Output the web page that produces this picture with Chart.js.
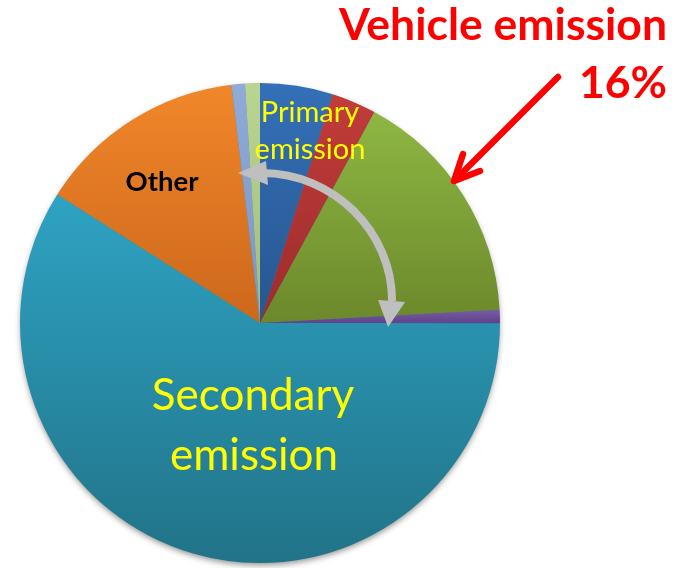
<!DOCTYPE html>
<html>
<head>
<meta charset="utf-8">
<script src="https://cdn.jsdelivr.net/npm/chart.js@4"></script>
<style>
  html, body { margin: 0; padding: 0; background: #ffffff; }
  #box { position: relative; width: 688px; height: 568px; }
</style>
</head>
<body>
<div id="box"><canvas id="pie-chart" width="688" height="568"></canvas></div>
<script>
// sectores en el orden del reloj, empezando arriba
const sources = ['Primary A', 'Primary B', 'Vehicle emission', 'Primary C',
                 'Secondary emission', 'Other', 'Primary D', 'Primary E'];
const shares = [4.9, 3.0, 16.2, 0.9, 58.9, 14.1, 0.9, 1.0];
const colorTop = ['#3470B8', '#C23C3A', '#8EB743', '#7A5AA6', '#2EA3C3', '#F1872A', '#90ABDA', '#BAD492'];
const colorBottom = ['#27568F', '#9C2C2B', '#6C882B', '#5E4488', '#217388', '#CC671C', '#7A93C4', '#A2BD78'];

// textos de la figura
const vehicleLines = ['Vehicle emission', '16%'];
const primaryLines = ['Primary', 'emission'];
const secondaryLines = ['Secondary', 'emission'];
const otherLabel = 'Other';

const FONT = 'Lato, "Open Sans", sans-serif';

// calcula el alto (y min / y max) de cada sector para poner el degradado
function sliceExtent(chart, index) {
    let a = chart.chartArea;
    let cx = (a.left + a.right) / 2;
    let cy = (a.top + a.bottom) / 2;
    let r = Math.min(a.right - a.left, a.bottom - a.top) / 2;
    let total = shares.reduce((s, v) => s + v, 0);
    let before = 0;
    for (let i = 0; i < index; i++) before += shares[i];
    let start = -Math.PI / 2 + before / total * 2 * Math.PI;
    let end = start + shares[index] / total * 2 * Math.PI;
    let ys = [cy, cy + r * Math.sin(start), cy + r * Math.sin(end)];
    // si el sector cruza arriba o abajo
    for (let k = -1; k <= 3; k++) {
        let t = -Math.PI / 2 + k * Math.PI;
        if (t > start && t < end) ys.push(cy + r * Math.sin(t));
    }
    return [Math.min(...ys), Math.max(...ys)];
}

function sliceGradient(context) {
    let chart = context.chart;
    let i = context.dataIndex;
    if (!chart.chartArea) return colorTop[i];
    let ext = sliceExtent(chart, i);
    let g = chart.ctx.createLinearGradient(0, ext[0], 0, ext[1] + 0.01);
    g.addColorStop(0, colorTop[i]);
    g.addColorStop(1, colorBottom[i]);
    return g;
}

// sombra del pastel y flechas / textos
const decorations = {
    id: 'decorations',
    beforeDatasetsDraw(chart) {
        let arc = chart.getDatasetMeta(0).data[0];
        let c = chart.ctx;
        c.save();
        c.shadowColor = 'rgba(0,0,0,0.45)';
        c.shadowBlur = 6;
        c.shadowOffsetY = 3;
        c.fillStyle = '#2A8AA5';
        c.beginPath();
        c.arc(arc.x, arc.y, arc.outerRadius - 1, 0, Math.PI * 2);
        c.fill();
        c.restore();
    },
    afterDatasetsDraw(chart) {
        let arc = chart.getDatasetMeta(0).data[0];
        let cx = arc.x, cy = arc.y, R = arc.outerRadius;
        let c = chart.ctx;
        c.save();

        // flecha gris doble (arco)
        let ax = cx + 2, ay = cy - 18, rx = 0.542 * R, ry = 0.55 * R;
        let k = 0.5523;
        c.strokeStyle = '#BFBFBF';
        c.fillStyle = '#BFBFBF';
        c.lineWidth = 8;
        c.beginPath();
        c.moveTo(ax, ay - ry);
        c.bezierCurveTo(ax + k * rx, ay - ry, ax + rx, ay - k * ry, ax + rx, ay - 4);
        c.stroke();
        // punta izquierda
        c.beginPath();
        c.moveTo(ax - 24, ay - ry);
        c.lineTo(ax + 4, ay - ry - 12);
        c.lineTo(ax + 6, ay - ry + 12);
        c.closePath();
        c.fill();
        // punta de abajo
        c.beginPath();
        c.moveTo(ax + rx - 4, ay + 22);
        c.lineTo(ax + rx - 14, ay - 5);
        c.lineTo(ax + rx + 13, ay - 3);
        c.closePath();
        c.fill();

        // flecha roja
        let tipX = cx + 194, tipY = cy - 142;
        c.strokeStyle = '#FF0000';
        c.lineWidth = 6.5;
        c.lineCap = 'round';
        c.lineJoin = 'round';
        c.beginPath();
        c.moveTo(cx + 298, cy - 246);
        c.lineTo(tipX + 1, tipY - 1);
        c.stroke();
        c.beginPath();
        c.moveTo(tipX + 9, tipY - 27);
        c.lineTo(tipX, tipY);
        c.lineTo(tipX + 26, tipY - 10);
        c.stroke();

        // textos
        c.textBaseline = 'alphabetic';
        c.fillStyle = '#FF0000';
        c.textAlign = 'right';
        c.font = 'bold 44.5px ' + FONT;
        c.fillText(vehicleLines[0], 667, 40);
        c.fillText(vehicleLines[1], 667, 98);

        c.textAlign = 'center';
        c.fillStyle = '#FFFF00';
        c.font = '29px ' + FONT;
        c.fillText(primaryLines[0], cx + 50, cy - 201);
        c.fillText(primaryLines[1], cx + 50, cy - 164);

        c.font = '44px ' + FONT;
        c.fillText(secondaryLines[0], cx - 7, cy + 87);
        c.fillText(secondaryLines[1], cx - 6, cy + 147);

        c.fillStyle = '#000000';
        c.font = 'bold 27.5px ' + FONT;
        c.fillText(otherLabel, cx - 98, cy - 132);
        c.restore();
    }
};

let ctx = document.getElementById('pie-chart').getContext('2d');
let pieChart = new Chart(ctx, {
    type: 'pie',
    data: {
        labels: sources,
        datasets: [{
            data: shares,
            backgroundColor: sliceGradient,
            borderWidth: 0
        }]
    },
    options: {
        responsive: false,
        animation: false,
        layout: {
            padding: { left: 20, right: 188, top: 83, bottom: 5 }
        },
        plugins: {
            legend: { display: false },
            tooltip: { enabled: false }
        }
    },
    plugins: [decorations]
});
</script>
</body>
</html>
